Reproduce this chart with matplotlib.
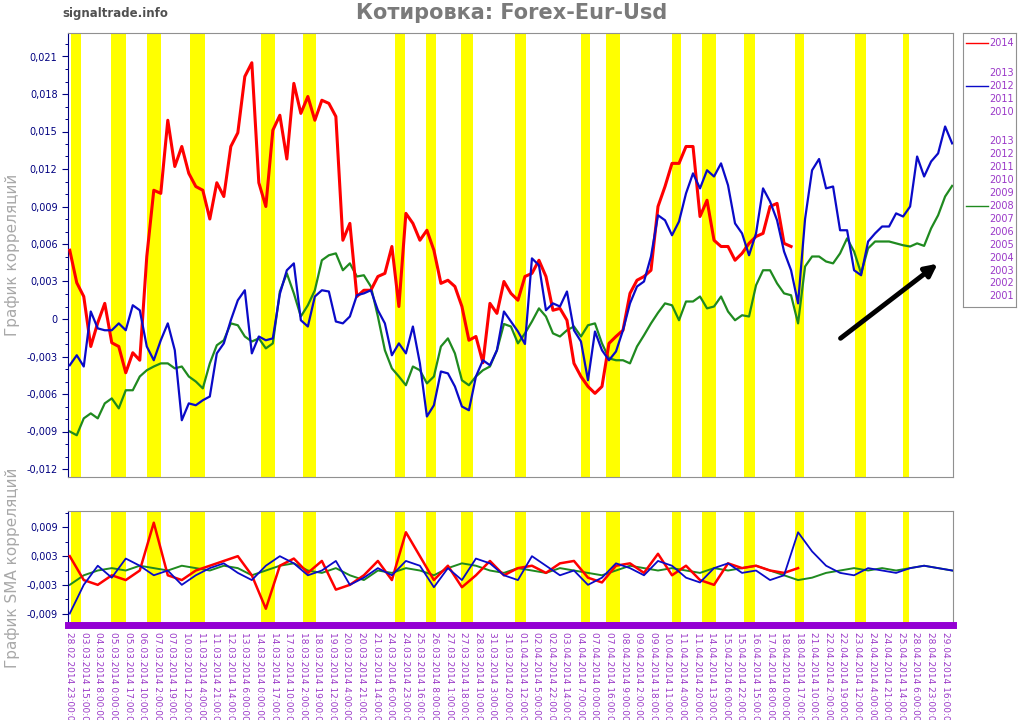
import numpy as np
import matplotlib.pyplot as plt
from matplotlib.ticker import MultipleLocator, FixedLocator, FuncFormatter

# correlation series, values in thousandths, one sample every 8 hours
step = 8
red_2014 = [5.5, 2.9, 1.8, -2.2, -0.3, 1.25, -1.9, -2.2, -4.3, -2.7, -3.3, 5.0, 10.3, 10.05, 15.9, 12.2,
            13.8, 11.65, 10.6, 10.3, 8.0, 10.9, 9.8, 13.8, 14.9, 19.4, 20.5, 10.9, 9.0, 15.1, 16.3, 12.8,
            18.85, 16.45, 17.8, 15.9, 17.5, 17.25, 16.2, 6.3, 7.65, 1.8, 2.3, 2.3, 3.4, 3.65, 5.8, 1.0,
            8.45, 7.65, 6.3, 7.1, 5.5, 2.85, 3.1, 2.6, 1.0, -1.7, -1.4, -3.5, 1.25, 0.45, 3.0, 2.05,
            1.5, 3.4, 3.65, 4.7, 3.4, 0.7, 0.85, -0.1, -3.55, -4.6, -5.4, -5.95, -5.4, -1.95, -1.4, -0.9,
            2.05, 3.1, 3.4, 3.9, 9.0, 10.6, 12.45, 12.45, 13.8, 13.8, 8.2, 9.5, 6.3, 5.8, 5.8, 4.7,
            5.25, 6.05, 6.6, 6.85, 9.0, 9.25, 6.05, 5.8]
blue_2012 = [-3.7, -2.9, -3.8, 0.6, -0.75, -0.9, -0.9, -0.35, -0.9, 1.1, 0.7, -2.2, -3.3, -1.7, -0.35, -2.5,
             -8.1, -6.75, -6.9, -6.5, -6.2, -2.75, -1.95, -0.1, 1.5, 2.3, -2.75, -1.4, -1.7, -1.55, 2.0, 3.9,
             4.45, -0.1, -0.6, 1.8, 2.3, 2.2, -0.2, -0.35, 0.2, 1.9, 2.05, 2.3, 0.7, -0.35, -2.9, -1.95,
             -2.75, -0.6, -3.55, -7.8, -6.9, -4.2, -4.35, -5.4, -7.0, -7.3, -4.6, -3.3, -3.7, -2.5, 0.6, -0.2,
             -1.0, -2.0, 4.85, 4.3, 0.7, 1.25, 1.0, 2.2, -0.9, -1.8, -4.9, -1.0, -2.5, -3.3, -2.6, -0.9,
             1.25, 2.6, 3.0, 5.0, 8.3, 7.9, 6.7, 7.8, 10.05, 11.65, 10.45, 11.9, 11.4, 12.45, 10.7, 7.65,
             6.85, 5.1, 6.85, 10.45, 9.4, 7.9, 5.4, 3.9, 1.25, 8.0, 11.9, 12.8, 10.45, 10.6, 7.1, 7.1,
             3.9, 3.5, 6.2, 6.85, 7.4, 7.4, 8.45, 8.2, 9.0, 13.0, 11.4, 12.6, 13.25, 15.4, 14.05]
green_2008 = [-9.0, -9.3, -7.95, -7.55, -7.95, -6.75, -6.35, -7.15, -5.7, -5.7, -4.6, -4.1, -3.8, -3.55, -3.55, -3.95,
              -3.8, -4.6, -5.0, -5.55, -3.55, -2.1, -1.7, -0.35, -0.5, -1.4, -1.8, -1.55, -2.35, -1.95, 2.2, 3.65,
              2.05, 0.2, 1.1, 2.3, 4.7, 5.1, 5.25, 3.9, 4.45, 3.4, 3.5, 2.6, 0.2, -2.5, -3.95, -4.6,
              -5.3, -3.8, -4.1, -5.15, -4.6, -2.2, -1.55, -2.75, -4.9, -5.3, -4.6, -4.1, -3.8, -2.5, -0.4, -0.6,
              -1.95, -1.15, -0.2, 0.85, 0.2, -1.15, -1.4, -0.9, -0.6, -1.4, -0.5, -0.35, -1.95, -3.15, -3.3, -3.3,
              -3.55, -2.2, -1.3, -0.35, 0.5, 1.25, 1.1, -0.1, 1.4, 1.4, 1.8, 0.85, 1.0, 1.8, 0.6, -0.1,
              0.3, 0.2, 2.7, 3.9, 3.9, 2.85, 2.05, 1.9, -0.35, 4.2, 5.0, 5.0, 4.6, 4.45, 5.25, 6.45,
              5.4, 3.65, 5.65, 6.2, 6.2, 6.2, 6.05, 5.9, 5.8, 6.05, 5.85, 7.25, 8.3, 9.8, 10.65]

# SMA of correlations, thousandths, one sample every 16 hours
sma_step = 16
red_sma = [3.0, -2.0, -3.0, -1.0, -2.0, 0.0, 10.0, -1.0, -2.0, 0.0, 1.0, 2.0, 3.0, -1.0, -8.0, 1.0,
           2.5, -0.5, 2.0, -4.0, -3.0, -1.0, 2.0, -2.0, 8.0, 3.0, -2.0, 1.0, -3.5, -1.0, 2.0, -1.0,
           0.5, 1.0, -0.5, 1.5, 2.0, -1.5, -2.5, 1.0, 1.5, -0.5, 3.5, -1.0, 1.0, -2.0, -3.0, 1.5,
           0.5, 1.0, 0.0, -0.5, 0.5]
blue_sma = [-9.0, -3.0, 1.0, -1.5, 2.5, 1.0, -1.0, 0.0, -3.0, -1.0, 0.5, 1.5, -0.5, -2.0, 1.0, 3.0,
            1.5, -1.0, 0.0, 2.0, -3.0, -1.5, 0.5, -1.0, 2.0, 1.0, -3.5, 0.5, -2.0, 2.5, 1.5, -1.0,
            -2.0, 3.0, 1.0, -1.0, 0.0, -3.0, -1.5, 1.5, 0.5, -1.0, 2.0, 1.0, -1.5, -2.5, 0.5, 1.5,
            -0.5, 0.0, -2.0, -1.0, 8.0, 4.0, 1.0, -0.5, -1.0, 0.5, 0.0, -0.5, 0.5, 1.0, 0.5, 0.0]
green_sma = [-3.0, -1.0, 0.0, 0.5, 0.0, 1.0, 0.5, 0.0, 1.0, 0.5, 0.0, 1.0, 0.5, -1.0, 0.0, 1.0,
             1.5, 0.0, -0.5, 0.5, -1.0, -2.0, 0.0, -0.5, 0.5, 0.0, -1.0, 0.5, 1.5, 1.0, 0.0, -0.5,
             0.5, 0.0, -0.5, 0.5, 0.0, -0.5, -1.0, 0.0, 1.0, 0.5, 0.0, 0.5, 0.0, -0.5, 0.5, 0.0,
             0.5, 1.0, 0.0, -1.0, -2.0, -1.5, -0.5, 0.0, 0.5, 0.0, 0.5, 0.0, 0.5, 1.0, 0.5, 0.0]

# highlighted hours (yellow)
band_start = [1, 47, 88, 137, 219, 266, 371, 407, 447, 509, 584, 613, 688, 722, 770, 829, 897, 952]
band_end = [13, 64, 104, 155, 235, 281, 383, 418, 461, 521, 594, 629, 698, 738, 783, 839, 910, 959]

tick_labels = ["28.02.2014 23:00:00", "03.03.2014 15:00:00", "04.03.2014 8:00:00", "05.03.2014 0:00:00",
               "05.03.2014 17:00:00", "06.03.2014 10:00:00", "07.03.2014 2:00:00", "07.03.2014 19:00:00",
               "10.03.2014 12:00:00", "11.03.2014 4:00:00", "11.03.2014 21:00:00", "12.03.2014 14:00:00",
               "13.03.2014 6:00:00", "14.03.2014 0:00:00", "14.03.2014 17:00:00", "17.03.2014 10:00:00",
               "18.03.2014 2:00:00", "18.03.2014 19:00:00", "19.03.2014 12:00:00", "20.03.2014 4:00:00",
               "20.03.2014 21:00:00", "21.03.2014 14:00:00", "24.03.2014 6:00:00", "24.03.2014 23:00:00",
               "25.03.2014 16:00:00", "26.03.2014 8:00:00", "27.03.2014 1:00:00", "27.03.2014 18:00:00",
               "28.03.2014 10:00:00", "31.03.2014 3:00:00", "31.03.2014 20:00:00", "01.04.2014 12:00:00",
               "02.04.2014 5:00:00", "02.04.2014 22:00:00", "03.04.2014 14:00:00", "04.04.2014 7:00:00",
               "07.04.2014 0:00:00", "07.04.2014 16:00:00", "08.04.2014 9:00:00", "09.04.2014 2:00:00",
               "09.04.2014 18:00:00", "10.04.2014 11:00:00", "11.04.2014 4:00:00", "11.04.2014 20:00:00",
               "14.04.2014 13:00:00", "15.04.2014 6:00:00", "15.04.2014 22:00:00", "16.04.2014 15:00:00",
               "17.04.2014 8:00:00", "18.04.2014 0:00:00", "18.04.2014 17:00:00", "21.04.2014 10:00:00",
               "22.04.2014 2:00:00", "22.04.2014 19:00:00", "23.04.2014 12:00:00", "24.04.2014 4:00:00",
               "24.04.2014 21:00:00", "25.04.2014 14:00:00", "28.04.2014 6:00:00", "28.04.2014 23:00:00",
               "29.04.2014 16:00:00"]
tick_pos = np.arange(len(tick_labels)) * 1000 / 60

legend_groups = [["2014"], ["2013", "2012", "2011", "2010"],
                 ["2013", "2012", "2011", "2010", "2009", "2008", "2007", "2006", "2005", "2004",
                  "2003", "2002", "2001"]]
legend_lines = {(0, 0): "#ff0000", (1, 1): "#0a0ac8", (2, 5): "#1f8a1f"}

c_red, c_blue, c_green = "#ff0000", "#0a0ac8", "#1f8a1f"
c_purple = "#9a38c8"
c_navy = "#000080"


def fmt(v, pos):
    if abs(v) < 1e-9:
        return "0"
    return ("%.3f" % v).replace(".", ",")


fig = plt.figure(figsize=(10.19, 7.2), dpi=100)
W, H = 1019, 720
ax = fig.add_axes([68 / W, 1 - 477 / H, 885 / W, 444 / H])
ax2 = fig.add_axes([68 / W, 1 - 625 / H, 885 / W, 114 / H])

for a in (ax, ax2):
    for s, e in zip(band_start, band_end):
        a.axvspan(s, e, color="#ffff00", lw=0, zorder=0)
    a.set_xlim(-2, 1009)
    a.spines["left"].set_color(c_navy)
    for side in ("top", "right"):
        a.spines[side].set_color("#909090")
    a.tick_params(axis="y", colors=c_navy, labelcolor=c_navy, labelsize=7, length=4, width=0.8)
    a.tick_params(axis="y", which="minor", colors=c_navy, length=2, width=0.7)
    a.yaxis.set_major_formatter(FuncFormatter(fmt))

x_main = np.arange(len(blue_2012)) * step
ax.plot(x_main, np.array(green_2008) * 1e-3, color=c_green, lw=1.6, zorder=2)
ax.plot(np.arange(len(red_2014)) * step, np.array(red_2014) * 1e-3, color=c_red, lw=2.2, zorder=3)
ax.plot(x_main, np.array(blue_2012) * 1e-3, color=c_blue, lw=1.6, zorder=4)
ax.set_ylim(-0.01264, 0.02288)
ax.yaxis.set_major_locator(MultipleLocator(0.003))
ax.yaxis.set_minor_locator(MultipleLocator(0.001))
ax.spines["bottom"].set_color("#909090")
ax.set_xticks([])
ax.set_ylabel("График корреляций", color="#a8a8a8", fontsize=11)
ax.yaxis.set_label_coords(-0.054, 0.5)
ax.annotate("", xy=(994, 0.00456), xytext=(878, -0.00168),
            arrowprops=dict(arrowstyle="-|>", lw=3.5, color="black", mutation_scale=18), zorder=5)

x_sma = np.arange(len(blue_sma)) * sma_step
ax2.plot(x_sma, np.array(green_sma) * 1e-3, color=c_green, lw=1.4, zorder=2)
ax2.plot(np.arange(len(red_sma)) * sma_step, np.array(red_sma) * 1e-3, color=c_red, lw=1.8, zorder=3)
ax2.plot(x_sma, np.array(blue_sma) * 1e-3, color=c_blue, lw=1.3, zorder=4)
ax2.set_ylim(-0.0114, 0.01245)
ax2.yaxis.set_major_locator(FixedLocator([-0.009, -0.003, 0.003, 0.009]))
ax2.yaxis.set_minor_locator(MultipleLocator(0.003))
ax2.spines["bottom"].set_color("#9400d3")
ax2.spines["bottom"].set_linewidth(5)
ax2.set_xticks(tick_pos)
ax2.set_xticklabels(tick_labels, rotation=-90, fontsize=6.5, color=c_purple)
ax2.tick_params(axis="x", length=0, pad=5)
ax2.set_ylabel("График SMA корреляций", color="#a8a8a8", fontsize=11)
ax2.yaxis.set_label_coords(-0.054, 0.5)

fig.text(512 / W, 1 - 13 / H, "Котировка: Forex-Eur-Usd", ha="center", va="center",
         fontsize=15, fontweight="bold", color="#7a7a7a")
fig.text(62 / W, 1 - 13 / H, "signaltrade.info", ha="left", va="center",
         fontsize=8.5, fontweight="bold", color="#505050")

# legend box
lg = fig.add_axes([963 / W, 1 - 307 / H, 53 / W, 274 / H])
lg.set_xlim(0, 53)
lg.set_ylim(274, 0)
lg.set_xticks([])
lg.set_yticks([])
for s in lg.spines.values():
    s.set_color("#909090")
y = 10
for gi, group in enumerate(legend_groups):
    for ii, year in enumerate(group):
        lg.text(26, y, year, ha="left", va="center", fontsize=7, color=c_purple)
        if (gi, ii) in legend_lines:
            lg.plot([3, 25], [y, y], color=legend_lines[(gi, ii)], lw=1)
        y += 12.9
    y += 17

fig.savefig("out.png", dpi=100)
